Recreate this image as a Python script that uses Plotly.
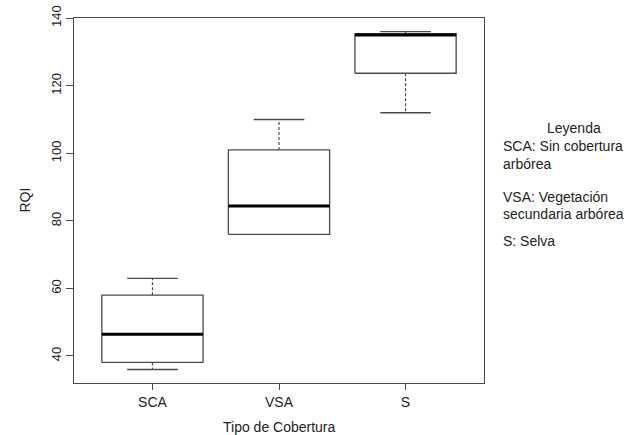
import plotly.graph_objects as go

# ---- data ----
categories = ["SCA", "VSA", "S"]
whisker_low = [36, 76, 112]
q1 = [38.1, 76.0, 123.7]
median = [46.4, 84.4, 135.0]
q3 = [58.0, 101.0, 135.4]
whisker_high = [63, 110, 136]
y_ticks = [40, 60, 80, 100, 120, 140]
legend_title = "Leyenda"
legend_lines = ["SCA: Sin cobertura", "arbórea", "VSA: Vegetación", "secundaria arbórea", "S: Selva"]

# ---- style ----
FONT = "Liberation Sans, Arial, sans-serif"
LINE = "#4a4a4a"
TEXT = "#222222"
BOX_HALF = 0.4
CAP_HALF = 0.2

fig = go.Figure()
positions = list(range(1, len(categories) + 1))

for i, p in enumerate(positions):
    # dashed whiskers
    fig.add_trace(go.Scatter(
        x=[p, p, None, p, p],
        y=[q3[i], whisker_high[i], None, q1[i], whisker_low[i]],
        mode="lines", line=dict(color=LINE, width=1.2, dash="3px,2px"),
        hoverinfo="skip", showlegend=False))
    # caps
    fig.add_trace(go.Scatter(
        x=[p - CAP_HALF, p + CAP_HALF, None, p - CAP_HALF, p + CAP_HALF],
        y=[whisker_high[i], whisker_high[i], None, whisker_low[i], whisker_low[i]],
        mode="lines", line=dict(color=LINE, width=1.3),
        hoverinfo="skip", showlegend=False))
    # box
    fig.add_trace(go.Scatter(
        x=[p - BOX_HALF, p + BOX_HALF, p + BOX_HALF, p - BOX_HALF, p - BOX_HALF],
        y=[q1[i], q1[i], q3[i], q3[i], q1[i]],
        mode="lines", line=dict(color=LINE, width=1.3),
        fill="toself", fillcolor="white",
        hoverinfo="skip", showlegend=False))
    # median
    fig.add_trace(go.Scatter(
        x=[p - BOX_HALF, p + BOX_HALF], y=[median[i], median[i]],
        mode="lines", line=dict(color="black", width=3),
        hoverinfo="skip", showlegend=False))

W, H = 634, 435
L, R, T, B = 74, 150, 18, 52
plot_h = H - T - B
plot_bottom_px = H - B

annotations = [
    dict(text="Tipo de Cobertura", xref="paper", yref="paper", x=0.5, y=0,
         xanchor="center", yanchor="middle", yshift=-44, showarrow=False,
         font=dict(family=FONT, size=14, color=TEXT)),
    dict(text="RQI", xref="paper", yref="paper", x=0, y=0.5,
         xanchor="center", yanchor="middle", xshift=-50, textangle=-90, showarrow=False,
         font=dict(family=FONT, size=14, color=TEXT)),
    dict(text=legend_title, xref="paper", yref="paper", x=1, y=(plot_bottom_px - 128) / plot_h,
         xanchor="center", yanchor="middle", xshift=90, showarrow=False,
         font=dict(family=FONT, size=14, color=TEXT)),
]
legend_y_px = [146, 164, 197, 214, 241]
for txt, ypx in zip(legend_lines, legend_y_px):
    annotations.append(dict(
        text=txt, xref="paper", yref="paper", x=1, y=(plot_bottom_px - ypx) / plot_h,
        xanchor="left", yanchor="middle", xshift=17, showarrow=False,
        font=dict(family=FONT, size=14, color=TEXT)))

fig.update_layout(
    width=W, height=H,
    margin=dict(l=L, r=R, t=T, b=B, pad=0, autoexpand=False),
    paper_bgcolor="white", plot_bgcolor="white",
    font=dict(family=FONT, size=14, color=TEXT),
    showlegend=False,
    xaxis=dict(range=[0.38, len(categories) + 0.62], tickvals=positions, ticktext=categories,
               showgrid=False, zeroline=False, showline=True, mirror=True, automargin=False,
               linecolor=LINE, linewidth=1.3, ticks="outside", ticklen=6,
               tickcolor=LINE, tickwidth=1.3, tickfont=dict(size=14, color=TEXT)),
    yaxis=dict(range=[32, 140.05], tickvals=y_ticks, ticktext=[str(v) for v in y_ticks],
               showgrid=False, zeroline=False, showline=True, mirror=True, automargin=False,
               linecolor=LINE, linewidth=1.3, ticks="outside", ticklen=7,
               tickcolor=LINE, tickwidth=1.3, tickangle=-90,
               ticklabeloverflow="allow",
               tickfont=dict(size=13, color=TEXT)),
    annotations=annotations,
)

fig.write_html("out.html", config={"displayModeBar": False},
               post_script="document.body.style.margin='0';")
